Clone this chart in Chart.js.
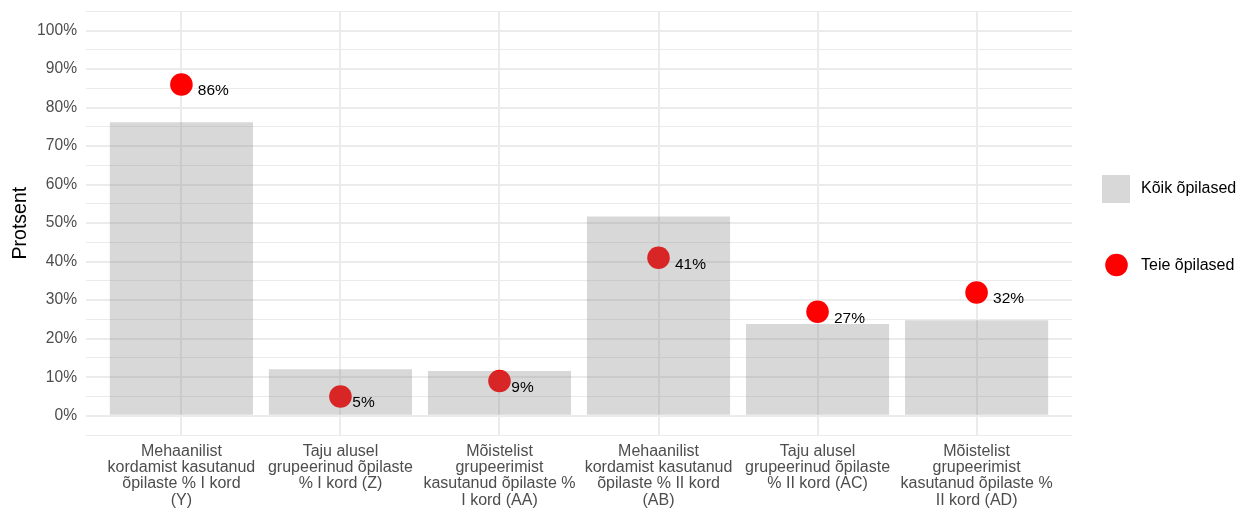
<!DOCTYPE html>
<html>
<head>
<meta charset="utf-8">
<script src="https://cdn.jsdelivr.net/npm/chart.js@4"></script>
<style>
  body { margin: 0; background: #fff; }
  #wrap { width: 1238px; height: 508px; position: relative; }
</style>
</head>
<body>
<div id="wrap"><canvas id="chart"></canvas></div>
<script>
// Category labels (multi-line, as in the picture)
const categories = [
  ['Mehaanilist', 'kordamist kasutanud', 'õpilaste % I kord', '(Y)'],
  ['Taju alusel', 'grupeerinud õpilaste', '% I kord (Z)'],
  ['Mõistelist', 'grupeerimist', 'kasutanud õpilaste %', 'I kord (AA)'],
  ['Mehaanilist', 'kordamist kasutanud', 'õpilaste % II kord', '(AB)'],
  ['Taju alusel', 'grupeerinud õpilaste', '% II kord (AC)'],
  ['Mõistelist', 'grupeerimist', 'kasutanud õpilaste %', 'II kord (AD)']
];

// Series values (percent)
const allStudents = [76.2, 12.1, 11.6, 51.7, 23.8, 24.8];
const yourStudents = [86, 5, 9, 41, 27, 32];

// Series names
const seriesNames = ['Kõik õpilased', 'Teie õpilased'];

// Y tick labels
const yTicks = [0, 10, 20, 30, 40, 50, 60, 70, 80, 90, 100];

const FONT = '"Liberation Sans", Arial, sans-serif';
const barColor = 'rgba(127,127,127,0.3)';
const pointColor = 'rgb(255,0,0)';

// Draws "NN%" labels next to the points
const valueLabels = {
  id: 'valueLabels',
  afterDatasetsDraw(chart) {
    const ctx = chart.ctx;
    const meta = chart.getDatasetMeta(1);
    ctx.save();
    ctx.font = '15.5px ' + FONT;
    ctx.fillStyle = '#000';
    ctx.textAlign = 'left';
    ctx.textBaseline = 'alphabetic';
    meta.data.forEach((pt, i) => {
      const txt = yourStudents[i] + '%';
      const w = ctx.measureText(txt).width;
      ctx.fillText(txt, pt.x + 0.53 * w, pt.y + 11);
    });
    ctx.restore();
  }
};

// Legend on the right, ggplot style
const sideLegend = {
  id: 'sideLegend',
  afterDraw(chart) {
    const ctx = chart.ctx;
    ctx.save();
    ctx.fillStyle = barColor;
    ctx.fillRect(1102, 175, 28, 28);
    ctx.fillStyle = pointColor;
    ctx.beginPath();
    ctx.arc(1116.5, 265, 11.3, 0, Math.PI * 2);
    ctx.fill();
    ctx.fillStyle = '#000';
    ctx.font = '16px ' + FONT;
    ctx.textBaseline = 'middle';
    ctx.fillText(seriesNames[0], 1141, 189);
    ctx.fillText(seriesNames[1], 1141, 266);
    ctx.restore();
  }
};

function isMajor(v) {
  return Math.abs(v % 10) < 1e-9 && v >= 0 && v <= 100;
}

new Chart(document.getElementById('chart'), {
  type: 'bar',
  data: {
    datasets: [
      {
        type: 'bar',
        label: seriesNames[0],
        data: allStudents.map((v, i) => ({ x: i, y: v })),
        backgroundColor: barColor,
        borderWidth: 0,
        barPercentage: 0.9,
        categoryPercentage: 1,
        order: 0
      },
      {
        type: 'scatter',
        label: seriesNames[1],
        data: yourStudents.map((v, i) => ({ x: i, y: v })),
        backgroundColor: pointColor,
        borderWidth: 0,
        pointRadius: 11.3,
        pointHoverRadius: 11.3,
        order: 1
      }
    ]
  },
  options: {
    responsive: true,
    maintainAspectRatio: false,
    animation: false,
    layout: { padding: { top: 10, right: 166, left: 0, bottom: 0 } },
    plugins: {
      legend: { display: false },
      tooltip: { enabled: false }
    },
    scales: {
      x: {
        type: 'linear',
        offset: false,
        min: -0.6,
        max: 5.6,
        afterBuildTicks: axis => { axis.ticks = categories.map((c, i) => ({ value: i })); },
        afterFit: axis => { axis.height = 73; },
        grid: { color: '#ebebeb', lineWidth: 2, drawTicks: false, offset: false },
        border: { display: false },
        ticks: {
          autoSkip: false,
          maxRotation: 0,
          padding: 8,
          color: '#4d4d4d',
          font: { family: FONT, size: 16, lineHeight: 1.02 },
          callback: v => categories[v]
        }
      },
      y: {
        min: -5,
        max: 105,
        afterBuildTicks: axis => {
          const t = [];
          for (let v = -5; v <= 105; v += 5) t.push({ value: v });
          axis.ticks = t;
        },
        afterFit: axis => {
          axis.width = 86;
          axis.paddingTop = 0;
          axis.paddingBottom = 0;
        },
        grid: {
          drawTicks: false,
          color: '#ebebeb',
          lineWidth: c => (isMajor(c.tick.value) ? 2 : 1)
        },
        border: { display: false },
        title: {
          display: true,
          text: 'Protsent',
          color: '#000',
          font: { family: FONT, size: 19.5 },
          padding: { top: 9, bottom: 0 }
        },
        ticks: {
          autoSkip: false,
          padding: 9,
          color: '#4d4d4d',
          font: { family: FONT, size: 15.6 },
          callback: v => (yTicks.includes(v) ? v + '%' : '')
        }
      }
    }
  },
  plugins: [valueLabels, sideLegend]
});
</script>
</body>
</html>
